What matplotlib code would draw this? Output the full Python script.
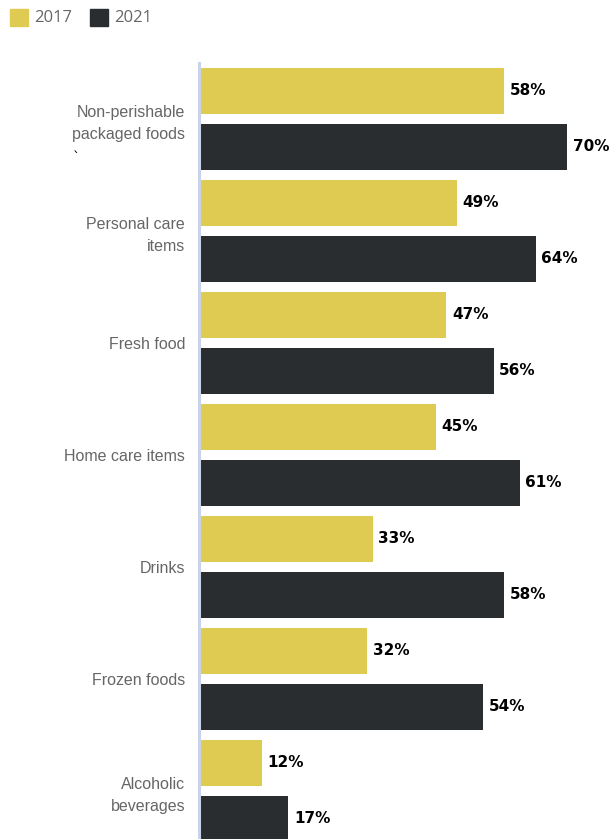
import matplotlib
matplotlib.use("Agg")
import matplotlib.pyplot as plt
from matplotlib.patches import Rectangle
import numpy as np

# data
categories = ["Non-perishable\npackaged foods", "Personal care\nitems", "Fresh food",
              "Home care items", "Drinks", "Frozen foods", "Alcoholic\nbeverages"]
vals_2017 = [58, 49, 47, 45, 33, 32, 12]
vals_2021 = [70, 64, 56, 61, 58, 54, 17]
years = ["2017", "2021"]

col_2017 = "#E0CB52"
col_2021 = "#2A2D30"

W, H = 612, 839
fig = plt.figure(figsize=(W / 100, H / 100), dpi=100)

# axes placed in pixel terms
left, right, top, bottom = 199, 612, 63, 839
ax = fig.add_axes([left / W, 1 - bottom / H, (right - left) / W, (bottom - top) / H])

y = np.arange(len(categories))
bh = 0.41
off = 0.25
ax.barh(y - off, vals_2017, height=bh, color=col_2017)
ax.barh(y + off, vals_2021, height=bh, color=col_2021)

for yi, v in zip(y, vals_2017):
    ax.annotate(f"{v}%", (v, yi - off), xytext=(4, 0), textcoords="offset points",
                va="center", ha="left", fontsize=11, fontweight="bold", color="black")
for yi, v in zip(y, vals_2021):
    ax.annotate(f"{v}%", (v, yi + off), xytext=(4, 0), textcoords="offset points",
                va="center", ha="left", fontsize=11, fontweight="bold", color="black")

ax.set_xlim(0, 78.5)
ax.set_ylim(6.43, -0.5)
ax.set_yticks(y)
ax.set_yticklabels(categories, fontsize=11.5, color="#666666", family="Liberation Sans",
                   linespacing=1.55)
ax.tick_params(axis="y", length=0, pad=10)
ax.set_xticks([])
for s in ["top", "right", "bottom"]:
    ax.spines[s].set_visible(False)
ax.spines["left"].set_color("#C8D2E8")
ax.spines["left"].set_linewidth(2.2)

# stray mark under the first label, as in the source
fig.text(76 / W, 1 - 158 / H, "`", fontsize=10, color="black", ha="center", va="center")

# legend
for x0, c, lab in [(10, col_2017, years[0]), (90, col_2021, years[1])]:
    fig.patches.append(Rectangle((x0 / W, 1 - 26 / H), 18 / W, 17 / H,
                                 transform=fig.transFigure, color=c))
    fig.text((x0 + 24) / W, 1 - 17.5 / H, lab, fontsize=12, color="#666666",
             family="Open Sans", va="center", ha="left")

fig.savefig("out.png", dpi=100)
